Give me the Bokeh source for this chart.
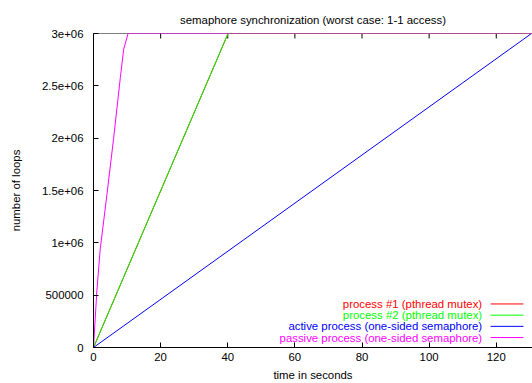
import math
from bokeh.plotting import figure
from bokeh.models import Range1d, FixedTicker, Label, Span
from bokeh.embed import file_html
from bokeh.resources import INLINE

# ---- data ----
X_MAX = 130.8
Y_MAX = 3000000
t_mutex1 = [0, 40.1, 130.8]
n_mutex1 = [0, 3000000, 3000000]
t_mutex2 = [0, 40.1, 130.8]
n_mutex2 = [0, 3000000, 3000000]
t_active = [0, 130.5, 130.8]
n_active = [0, 3000000, 3000000]
t_passive = [0, 1, 2, 4, 6, 8, 9, 10.3, 130.8]
n_passive = [0, 540000, 940000, 1460000, 2000000, 2580000, 2850000, 3000000, 3000000]

title_text = "semaphore synchronization (worst case: 1-1 access)"
series_names = [
    "process #1 (pthread mutex)",
    "process #2 (pthread mutex)",
    "active process (one-sided semaphore)",
    "passive process (one-sided semaphore)",
]
series_colors = ["#ff0000", "#00ff00", "#0000ff", "#ff00ff"]

x_ticks = [0, 20, 40, 60, 80, 100, 120]
y_ticks = [0, 500000, 1000000, 1500000, 2000000, 2500000, 3000000]
y_tick_labels = ["0", "500000", "1e+06", "1.5e+06", "2e+06", "2.5e+06", "3e+06"]

FONT = "Liberation Sans"
FS = "11.4px"

p = figure(
    width=532, height=383,
    x_range=Range1d(0, X_MAX), y_range=Range1d(0, Y_MAX),
    output_backend="svg", toolbar_location=None,
    min_border_left=93, min_border_right=0, min_border_top=33, min_border_bottom=35,
    title=title_text,
)
p.outline_line_color = None
p.background_fill_color = "white"
p.border_fill_color = "white"
p.xgrid.visible = False
p.ygrid.visible = False

p.title.align = "center"
p.title.text_font = FONT
p.title.text_font_size = FS
p.title.text_font_style = "normal"
p.title.text_color = "black"
p.title.standoff = 15

# axes
xa = p.xaxis[0]
xa.ticker = FixedTicker(ticks=x_ticks)
xa.axis_label = "time in seconds"
ya = p.yaxis[0]
ya.ticker = FixedTicker(ticks=y_ticks)
ya.major_label_overrides = {v: s for v, s in zip(y_ticks, y_tick_labels)}
ya.axis_label = "number of loops"

for ax in (xa, ya):
    ax.major_tick_in = 5
    ax.major_tick_out = 0
    ax.minor_tick_line_color = None
    ax.axis_line_color = "black"
    ax.major_tick_line_color = "black"
    ax.major_label_text_font = FONT
    ax.major_label_text_font_size = FS
    ax.major_label_text_color = "black"
    ax.axis_label_text_font = FONT
    ax.axis_label_text_font_size = FS
    ax.axis_label_text_font_style = "normal"
    ax.axis_label_text_color = "black"

xa.major_label_standoff = 5
xa.axis_label_standoff = 5
ya.major_label_standoff = 10
ya.axis_label_standoff = 17

# top border with mirrored inward ticks
p.add_layout(Span(location=Y_MAX, dimension="width", line_color="black", line_width=1, level="underlay"))
p.scatter(x=x_ticks, y=[Y_MAX] * len(x_ticks), marker="dash", angle=math.pi / 2, size=10,
          line_color="black", line_width=1, level="underlay")

# series
ts = [t_mutex1, t_mutex2, t_active, t_passive]
ns = [n_mutex1, n_mutex2, n_active, n_passive]
for t, n, c in zip(ts, ns, series_colors):
    p.line(t, n, line_color=c, line_width=1)

# gnuplot-style key: text right-aligned, sample line to its right
key_text_x = 115.8
key_x0, key_x1 = 118.3, 128.1
key_y0 = 416000
key_step = 107000
for i, (name, c) in enumerate(zip(series_names, series_colors)):
    y = key_y0 - i * key_step
    p.add_layout(Label(x=key_text_x, y=y, text=name, text_align="right", text_baseline="middle",
                       text_color=c, text_font=FONT, text_font_size=FS))
    p.segment(x0=[key_x0], y0=[y], x1=[key_x1], y1=[y], line_color=c, line_width=1)

open("out.html", "w").write(file_html(p, INLINE))
